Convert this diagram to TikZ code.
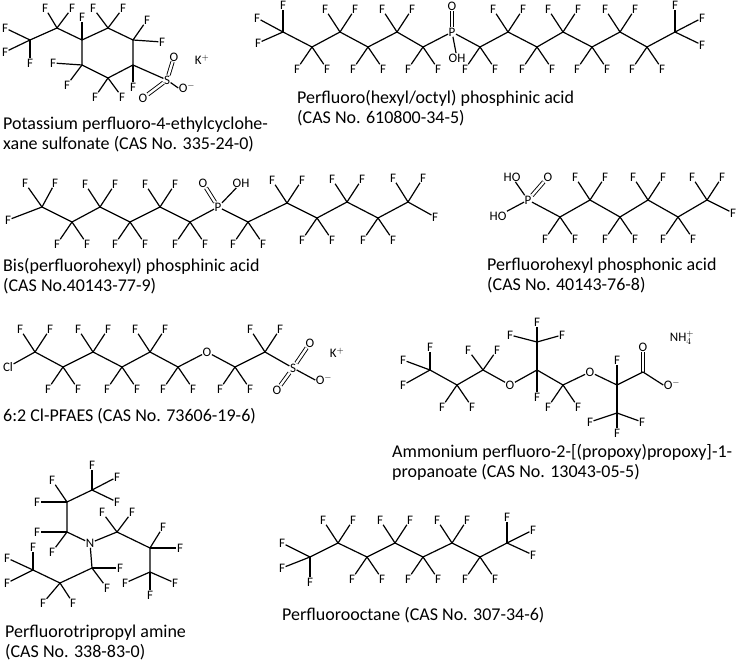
\documentclass[tikz,border=0pt]{standalone}
\usepackage{fontspec}
\setmainfont{Carlito}
\usetikzlibrary{calc}

\tikzset{
  atom/.style={font=\fontsize{13}{13}\selectfont, inner sep=0.4pt},
  lbl/.style={font=\fontsize{18}{20}\selectfont, anchor=north west, align=left, inner sep=0pt},
  bnd/.style={line width=1.2pt},
  dbl/.style={double, double distance=2.4pt, line width=0.9pt}
}
% substituent: name, parent, offset, text
\newcommand{\sub}[4]{\node[atom] (#1) at ($(#2)+(#3)$) {#4}; \draw[bnd] (#2) -- (#1);}
\newcommand{\Fup}[1]{\sub{#1u1}{#1}{-15,-23}{F}\sub{#1u2}{#1}{15,-23}{F}}
\newcommand{\Fdn}[1]{\sub{#1d1}{#1}{-15,22}{F}\sub{#1d2}{#1}{15,22}{F}}

\begin{document}
\begin{tikzpicture}[x=1pt,y=-1pt]
\useasboundingbox (0,0) rectangle (738,663);

%cyclohexane sulfonate
\foreach \n/\x/\y in {r1/133/65,r2/133/40,r3/108/28,r4/82/40,r5/82/65,r6/108/78,e1/57/28,e2/30/40}
  \coordinate (\n) at (\x,\y);
\draw[bnd] (r1)--(r2)--(r3)--(r4)--(r5)--(r6)--cycle;
\draw[bnd] (r4)--(e1)--(e2);
\sub{e1a}{e1}{-12,-20}{F}\sub{e1b}{e1}{15,-20}{F}
\sub{e2a}{e2}{-25,-12}{F}\sub{e2b}{e2}{-25,12}{F}\sub{e2c}{e2}{0,23}{F}
\sub{r4a}{r4}{0,-23}{F}
\sub{r3a}{r3}{-15,-20}{F}\sub{r3b}{r3}{15,-20}{F}
\sub{r2a}{r2}{14,-20}{F}\sub{r2b}{r2}{29,2}{F}
\sub{r1a}{r1}{0,22}{F}
\sub{r5a}{r5}{-29,-2}{F}\sub{r5b}{r5}{-15,20}{F}
\sub{r6a}{r6}{-13,19}{F}\sub{r6b}{r6}{14,19}{F}
\node[atom] (S1) at (167,80) {S};
\draw[bnd] (r1) -- (S1);
\node[atom] (S1o1) at (174,57) {O};
\node[atom] (S1o2) at (143,98) {O};
\node[atom] (S1o3) at (187,88) {O$^{-}$};
\draw[dbl] (S1) -- (S1o1); \draw[dbl] (S1) -- (S1o2);
\draw[bnd] (S1) -- (S1o3.west);
\node[atom] (K1) at (202,60) {K$^{+}$};
\node[lbl] (L1) at (3,117) {Potassium perfluoro-4-ethylcyclohe-\\xane sulfonate (CAS No. 335-24-0)};

%hexyl/octyl phosphinic acid
\coordinate (a1) at (283,32);
\sub{a1a}{a1}{0,-27}{F}\sub{a1b}{a1}{-26,-14}{F}\sub{a1c}{a1}{-25,11}{F}
\foreach \n/\x/\y/\s in {a2/312/47/dn,a3/340/32/up,a4/368/47/dn,a5/397/32/up,a6/423/47/dn,
  b1/480/47/dn,b2/508/32/up,b3/537/47/dn,b4/563/32/up,b5/592/47/dn,b6/620/32/up,b7/647/47/dn}
  {\coordinate (\n) at (\x,\y); \csname F\s\endcsname{\n}}
\coordinate (b8) at (675,32);
\sub{b8a}{b8}{0,-27}{F}\sub{b8b}{b8}{27,-14}{F}\sub{b8c}{b8}{27,13}{F}
\node[atom] (P2) at (452,32) {P};
\node[atom] (P2o) at (452,6) {O};
\node[atom] (P2h) at (457,58) {OH};
\draw[dbl] (P2) -- (P2o); \draw[bnd] (P2) -- (P2h);
\draw[bnd] (a1)--(a2)--(a3)--(a4)--(a5)--(a6)--(P2)--(b1)--(b2)--(b3)--(b4)--(b5)--(b6)--(b7)--(b8);
\node[lbl] (L2) at (297,90) {Perfluoro(hexyl/octyl) phosphinic acid\\(CAS No. 610800-34-5)};

%bis(perfluorohexyl) phosphinic acid
\coordinate (c1) at (42,207);
\sub{c1a}{c1}{-17,-24}{F}\sub{c1b}{c1}{13,-24}{F}\sub{c1c}{c1}{-34,13}{F}
\foreach \n/\x/\y/\s in {c2/72/222/dn,c3/100/207/up,c4/130/222/dn,c5/160/207/up,c6/190/222/dn,
  d1/248/222/dn,d2/287/203/up,d3/317/218/dn,d4/347/202/up,d5/378/218/dn}
  {\coordinate (\n) at (\x,\y); \csname F\s\endcsname{\n}}
\coordinate (d6) at (408,202);
\sub{d6a}{d6}{-15,-24}{F}\sub{d6b}{d6}{15,-24}{F}\sub{d6c}{d6}{27,15}{F}
\node[atom] (P3) at (218,207) {P};
\node[atom] (P3o) at (203,183) {O};
\node[atom] (P3h) at (241,183) {OH};
\draw[dbl] (P3) -- (P3o); \draw[bnd] (P3) -- (P3h);
\draw[bnd] (c1)--(c2)--(c3)--(c4)--(c5)--(c6)--(P3)--(d1)--(d2)--(d3)--(d4)--(d5)--(d6);
\node[lbl] (L3) at (3,258) {Bis(perfluorohexyl) phosphinic acid\\(CAS No.40143-77-9)};

%perfluorohexyl phosphonic acid
\foreach \n/\x/\y/\s in {f1/560/217/dn,f2/590/200/up,f3/620/217/dn,f4/648/200/up,f5/678/217/dn}
  {\coordinate (\n) at (\x,\y); \csname F\s\endcsname{\n}}
\coordinate (f6) at (707,200);
\sub{f6a}{f6}{-15,-23}{F}\sub{f6b}{f6}{15,-23}{F}\sub{f6c}{f6}{26,13}{F}
\node[atom] (P4) at (528,200) {P};
\node[atom] (P4h1) at (512,177) {HO};
\node[atom] (P4o) at (548,177) {O};
\node[atom] (P4h2) at (498,216) {HO};
\draw[dbl] (P4) -- (P4o); \draw[bnd] (P4) -- (P4h1); \draw[bnd] (P4) -- (P4h2);
\draw[bnd] (P4)--(f1)--(f2)--(f3)--(f4)--(f5)--(f6);
\node[lbl] (L4) at (487,258) {Perfluorohexyl phosphonic acid\\(CAS No. 40143-76-8)};

%6:2 Cl-PFAES
\node[atom] (Cl5) at (8,367) {Cl};
\foreach \n/\x/\y/\s in {g1/35/352/up,g2/63/367/dn,g3/93/352/up,g4/122/367/dn,g5/150/352/up,g6/178/367/dn,
  g7/235/367/dn,g8/265/352/up}
  {\coordinate (\n) at (\x,\y); \csname F\s\endcsname{\n}}
\node[atom] (O5) at (207,352) {O};
\node[atom] (S5) at (293,368) {S};
\node[atom] (S5o1) at (310,343) {O};
\node[atom] (S5o2) at (277,390) {O};
\node[atom] (S5o3) at (324,380) {O$^{-}$};
\draw[dbl] (S5) -- (S5o1); \draw[dbl] (S5) -- (S5o2); \draw[bnd] (S5) -- (S5o3.west);
\draw[bnd] (Cl5)--(g1)--(g2)--(g3)--(g4)--(g5)--(g6)--(O5)--(g7)--(g8)--(S5);
\node[atom] (K5) at (337,353) {K$^{+}$};
\node[lbl] (L5) at (3,408) {6:2 Cl-PFAES (CAS No. 73606-19-6)};

%ammonium propanoate
\coordinate (h1) at (430,370);
\sub{h1a}{h1}{0,-23}{F}\sub{h1b}{h1}{-27,-10}{F}\sub{h1c}{h1}{-27,15}{F}
\coordinate (h2) at (457,385); \Fdn{h2}
\coordinate (h3) at (483,370);
\sub{h3a}{h3}{-15,-20}{F}\sub{h3b}{h3}{14,-20}{F}
\node[atom] (O6a) at (510,385) {O};
\coordinate (h4) at (537,370); \coordinate (h5) at (537,342);
\sub{h4a}{h4}{0,27}{F}
\sub{h5a}{h5}{0,-20}{F}\sub{h5b}{h5}{-27,-7}{F}\sub{h5c}{h5}{25,-7}{F}
\coordinate (h6) at (563,385); \Fdn{h6}
\node[atom] (O6b) at (590,372) {O};
\coordinate (h7) at (617,385); \coordinate (h8) at (617,413);
\sub{h7a}{h7}{0,-25}{F}
\sub{h8a}{h8}{-27,9}{F}\sub{h8b}{h8}{25,9}{F}\sub{h8c}{h8}{0,20}{F}
\coordinate (h9) at (643,372);
\node[atom] (O6c) at (643,347) {O};
\node[atom] (O6d) at (672,385) {O$^{-}$};
\draw[dbl] (h9) -- (O6c); \draw[bnd] (h9) -- (O6d.west);
\draw[bnd] (h1)--(h2)--(h3)--(O6a)--(h4)--(h6)--(O6b)--(h7)--(h9);
\draw[bnd] (h4)--(h5); \draw[bnd] (h7)--(h8);
\node[atom] (NH4) at (682,338) {NH$_4^{+}$};
\node[lbl] (L6) at (392,444) {Ammonium perfluoro-2-[(propoxy)propoxy]-1-\\propanoate (CAS No. 13043-05-5)};

%perfluorotripropyl amine
\node[atom] (N7) at (90,543) {N};
\foreach \n/\x/\y in {k1/67/532,k2/67/502,k3/92/490,k4/117/532,k5/150/548,k6/150/572,k7/92/568,k8/60/583,k9/33/570}
  \coordinate (\n) at (\x,\y);
\draw[bnd] (N7)--(k1)--(k2)--(k3);
\draw[bnd] (N7)--(k4)--(k5)--(k6);
\draw[bnd] (N7)--(k7)--(k8)--(k9);
\sub{k1a}{k1}{-30,0}{F}\sub{k1b}{k1}{-15,20}{F}
\sub{k2a}{k2}{-30,0}{F}\sub{k2b}{k2}{-15,-22}{F}
\sub{k3a}{k3}{0,-25}{F}\sub{k3b}{k3}{25,-13}{F}\sub{k3c}{k3}{25,12}{F}
\sub{k4a}{k4}{-15,-20}{F}\sub{k4b}{k4}{15,-20}{F}
\sub{k5a}{k5}{13,-21}{F}\sub{k5b}{k5}{30,0}{F}
\sub{k6a}{k6}{-25,11}{F}\sub{k6b}{k6}{25,11}{F}\sub{k6c}{k6}{0,23}{F}
\sub{k7a}{k7}{28,0}{F}\sub{k7b}{k7}{15,20}{F}
\sub{k8a}{k8}{-17,20}{F}\sub{k8b}{k8}{13,20}{F}
\sub{k9a}{k9}{0,-23}{F}\sub{k9b}{k9}{-26,-12}{F}\sub{k9c}{k9}{-26,13}{F}
\node[lbl] (L7) at (5,625) {Perfluorotripropyl amine\\(CAS No. 338-83-0)};

%perfluorooctane
\coordinate (m1) at (310,557);
\sub{m1a}{m1}{-28,-14}{F}\sub{m1b}{m1}{-28,11}{F}\sub{m1c}{m1}{0,25}{F}
\foreach \n/\x/\y/\s in {m2/338/543/up,m3/367/557/dn,m4/395/543/up,m5/423/557/dn,m6/452/543/up,m7/480/557/dn}
  {\coordinate (\n) at (\x,\y); \csname F\s\endcsname{\n}}
\coordinate (m8) at (507,543);
\sub{m8a}{m8}{0,-26}{F}\sub{m8b}{m8}{26,-13}{F}\sub{m8c}{m8}{26,12}{F}
\draw[bnd] (m1)--(m2)--(m3)--(m4)--(m5)--(m6)--(m7)--(m8);
\node[lbl] (L8) at (282,607) {Perfluorooctane (CAS No. 307-34-6)};
\end{tikzpicture}
\end{document}
